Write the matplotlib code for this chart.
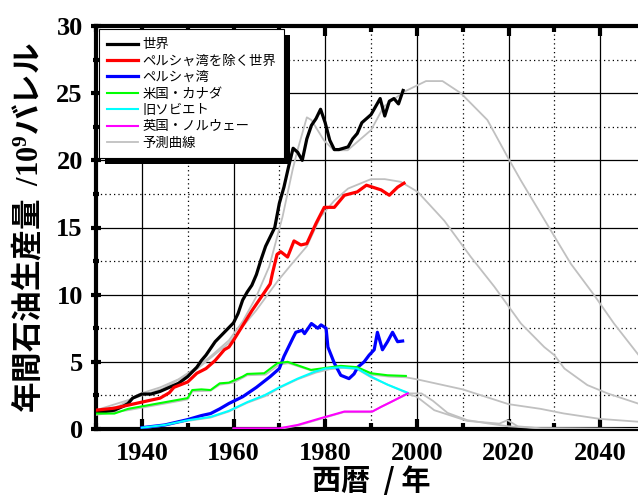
import matplotlib
matplotlib.use('Agg')
import matplotlib.pyplot as plt
from matplotlib.patches import Rectangle
from matplotlib.transforms import IdentityTransform
from matplotlib.ticker import MultipleLocator

plt.rcParams['font.family'] = ['Noto Sans CJK JP', 'DejaVu Sans']
plt.rcParams['mathtext.fontset'] = 'custom'
plt.rcParams['mathtext.rm'] = 'Liberation Serif:bold'
plt.rcParams['mathtext.bf'] = 'Liberation Serif:bold'
plt.rcParams['mathtext.it'] = 'Liberation Serif:bold'

# 実測データ
world_x = [1930, 1932, 1934, 1936, 1937, 1938, 1940, 1942, 1944, 1946, 1948, 1950, 1952, 1953,
           1954, 1956, 1958, 1960, 1961, 1962, 1963, 1964, 1965, 1966, 1967, 1968, 1969, 1970,
           1971, 1972, 1973, 1974, 1975, 1976, 1977, 1978, 1979, 1980, 1981, 1982, 1983, 1984,
           1985, 1986, 1987, 1988, 1989, 1990, 1991, 1992, 1993, 1994, 1995, 1996, 1997]
world_y = [1.3, 1.3, 1.4, 1.7, 1.9, 2.3, 2.6, 2.6, 2.8, 3.1, 3.4, 3.9, 4.6, 5.1,
           5.5, 6.5, 7.2, 7.9, 8.6, 9.6, 10.2, 10.7, 11.5, 12.6, 13.6, 14.3, 15.0, 16.8,
           18.0, 19.5, 20.9, 20.6, 20.0, 21.6, 22.6, 23.1, 23.8, 22.8, 21.5, 20.8, 20.8, 20.9,
           21.0, 21.6, 22.0, 22.8, 23.1, 23.4, 24.0, 24.6, 23.3, 24.4, 24.6, 24.2, 25.2]

exgulf_x = [1930, 1934, 1940, 1944, 1946, 1947, 1950, 1952, 1954, 1956, 1957, 1958, 1959, 1960,
            1962, 1964, 1966, 1968, 1968.5, 1969.5, 1970.3, 1971.8, 1973.2, 1974.7, 1976, 1978,
            1979.8, 1982, 1984.2, 1987, 1989, 1992.2, 1994, 1995.8, 1997.2]
exgulf_y = [1.4, 1.55, 2.0, 2.3, 2.7, 3.1, 3.5, 4.15, 4.5, 5.1, 5.5, 5.9, 6.1, 6.6,
            7.7, 8.8, 9.8, 10.8, 11.6, 13.0, 13.2, 12.8, 14.0, 13.7, 13.8, 15.3,
            16.5, 16.5, 17.4, 17.65, 18.15, 17.8, 17.4, 18.0, 18.3]

gulf_x = [1940, 1945, 1950, 1953, 1955, 1957, 1959, 1962, 1965, 1968, 1970, 1971, 1973, 1973.6,
          1975, 1975.5, 1977, 1978.4, 1979.1, 1980.2, 1980.6, 1982, 1983.4, 1985.2, 1986.3,
          1987.1, 1988.5, 1989.6, 1990.7, 1991.4, 1992.5, 1993.6, 1994.7, 1995.8, 1996.9]
gulf_y = [0.1, 0.3, 0.7, 1.0, 1.15, 1.5, 1.9, 2.4, 3.1, 3.9, 4.5, 5.4, 6.8, 7.2,
          7.35, 7.1, 7.85, 7.5, 7.75, 7.5, 6.1, 4.9, 4.0, 3.75, 4.1,
          4.6, 5.0, 5.5, 5.9, 7.2, 5.9, 6.5, 7.2, 6.5, 6.55]

usca_x = [1930, 1934, 1937, 1950, 1951, 1953, 1955, 1957, 1959, 1962, 1963, 1966.7, 1969.6,
          1971.8, 1976.9, 1983.4, 1987, 1990, 1993.6, 1997.6]
usca_y = [1.15, 1.15, 1.5, 2.3, 2.9, 2.95, 2.9, 3.4, 3.45, 3.9, 4.1, 4.15, 4.9,
          5.0, 4.4, 4.7, 4.6, 4.15, 4.0, 3.95]

ussr_x = [1940, 1945, 1950, 1955, 1959, 1963, 1966.7, 1970.3, 1974, 1977.6, 1980, 1983.4,
          1987, 1990, 1993.6, 1998]
ussr_y = [0.1, 0.3, 0.65, 0.9, 1.35, 2.0, 2.5, 3.15, 3.75, 4.25, 4.5, 4.6,
          4.5, 3.9, 3.3, 2.7]

ukno_x = [1960, 1970, 1974, 1979, 1984.2, 1990.3, 1992.2, 1994.3, 1998]
ukno_y = [0.05, 0.05, 0.3, 0.8, 1.3, 1.3, 1.65, 2.0, 2.65]

# 予測曲線
f_world_x = [1930, 1935, 1939.4, 1944, 1948, 1952, 1955, 1959, 1962, 1964.9, 1967.8, 1970.7,
             1972.9, 1974, 1976, 1977, 1979.7, 1981.9, 1984.9, 1990, 1992.8, 1997.2, 2002,
             2005.6, 2009.6, 2015.4, 2019.8, 2022.7, 2029.2, 2033.6, 2038.7, 2043, 2050]
f_world_y = [1.3, 1.7, 2.6, 3.1, 3.7, 4.6, 5.4, 6.6, 8.0, 9.8, 12.1, 15.8,
             19.3, 20.8, 23.2, 23.0, 21.5, 20.75, 20.75, 22.25, 24.0, 25.1, 25.9,
             25.9, 25.0, 23.0, 20.25, 18.5, 14.8, 12.3, 9.96, 7.86, 4.8]

f_exgulf_x = [1930, 1937, 1944.5, 1951.8, 1959, 1965, 1969.6, 1972.5, 1976, 1979, 1982, 1985,
              1990, 1993, 1996.5, 2000.2, 2006, 2011.8, 2016.9, 2022.7, 2027.8, 2030, 2032.2,
              2037.2, 2041.6, 2050]
f_exgulf_y = [1.4, 2.15, 3.0, 4.4, 6.4, 8.85, 11.0, 12.2, 13.6, 15.8, 17.0, 17.9,
              18.6, 18.6, 18.4, 17.65, 15.5, 12.8, 10.6, 7.86, 6.1, 5.5, 4.5,
              3.27, 2.65, 1.7]

f_usca_x = [1930, 1937, 1950, 1951, 1955, 1957, 1960, 1963, 1967, 1970, 1972, 1977, 1983,
            1987, 1990, 1994, 1997.6, 2000, 2010, 2020, 2027, 2032, 2040, 2050]
f_usca_y = [1.05, 1.4, 2.2, 2.8, 2.85, 3.3, 3.45, 4.0, 4.05, 4.8, 4.9, 4.35, 4.6,
            4.55, 4.05, 3.9, 3.85, 3.7, 2.95, 1.85, 1.5, 1.16, 0.75, 0.5]

f_ussr_x = [1940, 1945, 1950, 1955, 1959, 1963, 1967, 1970, 1974, 1978, 1981, 1984, 1987,
            1990, 1994, 1998, 2001, 2003.5, 2006.7, 2011, 2015.4, 2020, 2027, 2050]
f_ussr_y = [0.05, 0.25, 0.6, 0.85, 1.3, 1.95, 2.45, 3.05, 3.7, 4.2, 4.45, 4.55, 4.45,
            3.85, 3.25, 2.65, 2.65, 2.1, 1.2, 0.66, 0.42, 0.2, 0.05, 0.0]

f_ukno_x = [1960, 1970, 1974, 1979, 1984, 1990, 1992, 1994, 1998, 2000, 2003.8, 2011, 2018,
            2019.8, 2022, 2027, 2050]
f_ukno_y = [0.0, 0.0, 0.25, 0.75, 1.25, 1.25, 1.6, 1.95, 2.6, 2.4, 1.4, 0.6, 0.4,
            0.66, 0.2, 0.05, 0.0]

labels = ['世界', 'ペルシャ湾を除く世界', 'ペルシャ湾', '米国・カナダ', '旧ソビエト', '英国・ノルウェー', '予測曲線']

fig = plt.figure(figsize=(6.38, 4.97), dpi=100)
ax = fig.add_axes([96 / 638, 68 / 497, 550 / 638, 403 / 497])

gray = '#c0c0c0'
for fx, fy in [(f_world_x, f_world_y), (f_exgulf_x, f_exgulf_y), (f_usca_x, f_usca_y),
               (f_ussr_x, f_ussr_y), (f_ukno_x, f_ukno_y)]:
    ax.plot(fx, fy, color=gray, lw=1.3, zorder=3)

l1, = ax.plot(world_x, world_y, color='black', lw=2.3, zorder=4)
l2, = ax.plot(exgulf_x, exgulf_y, color='red', lw=2.3, zorder=4)
l3, = ax.plot(gulf_x, gulf_y, color='blue', lw=2.3, zorder=4)
l4, = ax.plot(usca_x, usca_y, color='#00ff00', lw=1.5, zorder=4)
l5, = ax.plot(ussr_x, ussr_y, color='cyan', lw=1.5, zorder=4)
l6, = ax.plot(ukno_x, ukno_y, color='magenta', lw=1.5, zorder=4)
l7, = ax.plot([], [], color=gray, lw=1.3)

ax.set_xlim(1930, 2050)
ax.set_ylim(0, 30)
ax.xaxis.set_major_locator(MultipleLocator(20))
ax.xaxis.set_minor_locator(MultipleLocator(10))
ax.yaxis.set_major_locator(MultipleLocator(5))
ax.yaxis.set_minor_locator(MultipleLocator(2.5))
ax.grid(which='major', color='black', lw=0.9, ls='-')
ax.grid(which='minor', color='black', lw=0.9, ls=(0, (1, 2.5)))
ax.set_axisbelow(True)

for s in ax.spines.values():
    s.set_linewidth(3)
ax.tick_params(which='both', top=True, right=True, direction='in', width=3)
ax.tick_params(axis='y', which='both', direction='inout')
ax.tick_params(which='major', length=7)
ax.tick_params(which='minor', length=4)
for lab in ax.get_xticklabels() + ax.get_yticklabels():
    lab.set_family('Liberation Serif')
    lab.set_fontweight('bold')
    lab.set_fontsize(19)
ax.tick_params(axis='x', pad=9)
ax.tick_params(axis='y', pad=6)

ax.set_ylabel('年間石油生産量  $\\mathrm{/10^9}$バレル', fontsize=22, fontweight='bold', labelpad=8)
ax.set_xlabel('西暦  / 年', fontsize=21, fontweight='bold', labelpad=1)

leg = ax.legend([l1, l2, l3, l4, l5, l6, l7], labels, loc='upper left', fontsize=9.6,
                handlelength=2.3, handletextpad=0.35, labelspacing=0.18, borderpad=0.6,
                borderaxespad=0.25, frameon=True, fancybox=False, framealpha=1)
leg.get_frame().set_edgecolor('black')
leg.get_frame().set_linewidth(0.8)
leg.set_zorder(6)

fig.canvas.draw()
bb = leg.get_window_extent()
ax.add_patch(Rectangle((bb.x0 + 6, bb.y0 - 6), bb.width, bb.height, transform=IdentityTransform(),
                       facecolor='black', edgecolor='none', clip_on=False, zorder=5.5))

fig.savefig('out.png', dpi=100)
